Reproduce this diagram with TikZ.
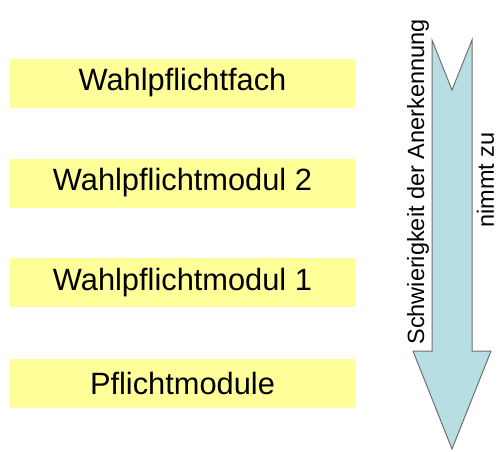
\documentclass[tikz,border=0pt]{standalone}
\usepackage{fontspec}
\setmainfont{Liberation Sans}
\definecolor{boxyellow}{HTML}{FFFF99}
\definecolor{arrowblue}{HTML}{B7DFE3}
\definecolor{arrowline}{HTML}{6F6F6F}
\begin{document}
\begin{tikzpicture}[x=1pt,y=-1pt,
  levelbox/.style={fill=boxyellow,draw=none,minimum width=345pt,minimum height=49pt,inner sep=0pt,font=\fontsize{30.8}{34}\selectfont},
  sidelabel/.style={font=\fontsize{23.5}{27}\selectfont,inner sep=0pt,rotate=90}]
\useasboundingbox (0,0) rectangle (498,451);
\fill[white] (0,0) rectangle (498,451);
\node[levelbox] (b1) at (182.5,83) {Wahlpflichtfach};
\node[levelbox] (b2) at (182.5,183) {Wahlpflichtmodul 2};
\node[levelbox] (b3) at (182.5,282.5) {Wahlpflichtmodul 1};
\node[levelbox] (b4) at (182.5,383) {Pflichtmodule};
\draw[fill=arrowblue,draw=arrowline,line width=1pt,line join=miter]
  (432,40) -- (452,90) -- (472,40) -- (472,351) -- (491,351) -- (452,449)
  -- (413,351) -- (432,351) -- cycle;
\node[sidelabel] (t1) at (418,182) {Schwierigkeit der Anerkennung};
\node[sidelabel] (t2) at (485.5,180) {nimmt zu};
\end{tikzpicture}
\end{document}
